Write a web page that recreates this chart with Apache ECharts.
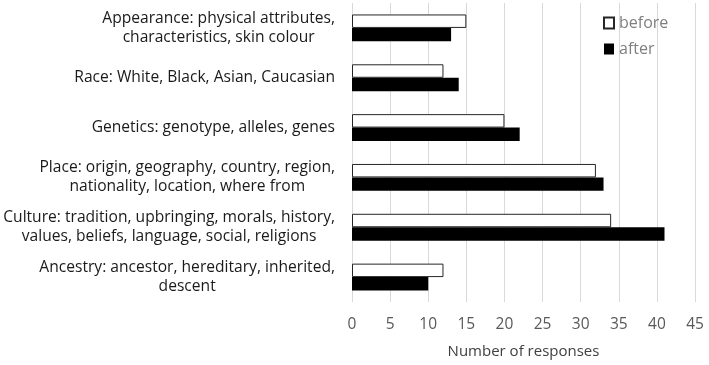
<!DOCTYPE html>
<html>
<head>
<meta charset="utf-8">
<script src="https://cdn.jsdelivr.net/npm/echarts@6/dist/echarts.min.js"></script>
<style>
  html, body { margin: 0; padding: 0; background: #fff; }
  #chart { width: 709px; height: 365px; }
</style>
</head>
<body>
<div id="chart"></div>
<script>
const categories = [
  'Appearance: physical attributes,\ncharacteristics, skin colour',
  'Race: White, Black, Asian, Caucasian',
  'Genetics: genotype, alleles, genes',
  'Place: origin, geography, country, region,\nnationality, location, where from',
  'Culture: tradition, upbringing, morals, history,\nvalues, beliefs, language, social, religions',
  'Ancestry: ancestor, hereditary, inherited,\ndescent'
]
const beforeValues = [15, 12, 20, 32, 34, 12]
const afterValues = [13, 14, 22, 33, 41, 10]

const FONT = 'Open Sans'

const chart = echarts.init(document.getElementById('chart'))
chart.setOption({
  animation: false,
  textStyle: { fontFamily: FONT },
  grid: { left: 352, right: 14, top: 3, bottom: 63 },
  legend: {
    orient: 'vertical',
    left: 598,
    top: 10,
    itemWidth: 10,
    itemHeight: 11,
    itemGap: 10,
    icon: 'rect',
    textStyle: { color: '#7f7f7f', fontSize: 16, fontFamily: FONT },
    data: ['before', 'after']
  },
  xAxis: {
    type: 'value',
    min: 0,
    max: 45,
    interval: 5,
    axisLine: { show: false },
    axisTick: { show: false },
    splitLine: { lineStyle: { color: '#d9d9d9', width: 1 } },
    axisLabel: { color: '#595959', fontSize: 15.5, margin: 15 },
    name: 'Number of responses',
    nameLocation: 'middle',
    nameGap: 42,
    nameTextStyle: { color: '#404040', fontSize: 15 }
  },
  yAxis: {
    type: 'category',
    inverse: true,
    data: categories,
    axisLine: { show: false },
    axisTick: { show: false },
    axisLabel: {
      align: 'right',
      margin: 17,
      color: '#1a1a1a',
      fontSize: 15.6,
      lineHeight: 19,
      // each line centred under the widest one
      formatter: (v) => v.split('\n').map(l => '{c|' + l + '}').join('\n'),
      rich: { c: { align: 'center', fontSize: 15.6, lineHeight: 19, color: '#1a1a1a' } }
    }
  },
  series: [
    {
      name: 'before',
      type: 'bar',
      data: beforeValues,
      barGap: '0%',
      barCategoryGap: '46%',
      itemStyle: { color: '#fff', borderColor: '#262626', borderWidth: 1 }
    },
    {
      name: 'after',
      type: 'bar',
      data: afterValues,
      barGap: '0%',
      barCategoryGap: '46%',
      itemStyle: { color: '#000' }
    }
  ]
})
</script>
</body>
</html>
